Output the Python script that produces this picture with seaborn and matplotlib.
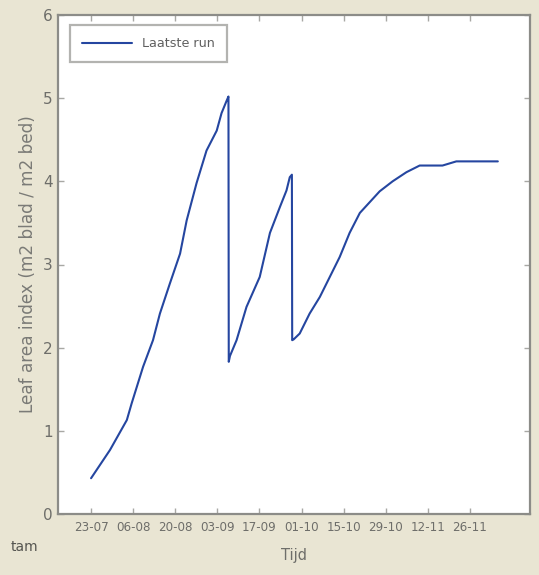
import matplotlib
matplotlib.use("Agg")
import matplotlib.pyplot as plt
import seaborn as sns

# ==============================
# DATA
# ==============================
# days since 23-07
days = [0, 6.3, 11.9, 13.5, 17.3, 20.6, 22.9, 26.2, 29.6, 31.8, 35.1, 38.4,
        41.8, 43.4, 45.1, 45.7, 45.8,
        46.2, 48.4, 51.7, 56.1, 59.5, 62.8, 65.0, 66.1, 66.8, 66.9,
        67.4, 69.4, 72.7, 76.1, 79.4, 82.7, 86.0, 89.4, 92.7, 96.0,
        100.3, 104.9, 109.3, 116.9, 121.5, 135.3]
lai = [0.43, 0.77, 1.13, 1.33, 1.77, 2.09, 2.41, 2.77, 3.13, 3.53, 3.98, 4.37,
       4.61, 4.82, 4.97, 5.02, 1.83,
       1.90, 2.09, 2.49, 2.85, 3.38, 3.69, 3.89, 4.05, 4.08, 2.09,
       2.10, 2.17, 2.41, 2.61, 2.85, 3.09, 3.38, 3.62, 3.75, 3.88,
       4.00, 4.11, 4.19, 4.19, 4.24, 4.24]

tick_labels = ["23-07", "06-08", "20-08", "03-09", "17-09",
               "01-10", "15-10", "29-10", "12-11", "26-11"]
tick_days = [14 * i for i in range(len(tick_labels))]
series_name = "Laatste run"

# ==============================
# STYLE
# ==============================
sns.set_style("white")
plt.rcParams['font.family'] = ['DejaVu Sans']

bg = "#e9e5d3"
frame = "#8c8c88"
txt = "#6e6e6a"

fig = plt.figure(figsize=(5.39, 5.75), dpi=100, facecolor=bg)
ax = fig.add_axes([0.1076, 0.1061, 0.8757, 0.8678])
ax.set_facecolor("white")

# ==============================
# PLOT
# ==============================
sns.lineplot(x=days, y=lai, estimator=None, sort=False, ax=ax,
             color="#2546a0", linewidth=1.5, label=series_name)

ax.set_xlim(-11, 146)
ax.set_ylim(0, 6)
ax.set_xticks(tick_days)
ax.set_xticklabels(tick_labels, fontsize=8.6)
ax.set_yticks(range(0, 7))

for s in ax.spines.values():
    s.set_color(frame)
    s.set_linewidth(1.6)

ax.tick_params(direction="in", length=4, width=1, color="#a8a8a4",
               top=True, right=True, bottom=True, left=True,
               labelcolor=txt, pad=5)
ax.tick_params(axis="y", labelsize=11, pad=4)

ax.set_xlabel("Tijd", color=txt, fontsize=10.5, labelpad=10)
ax.set_ylabel("Leaf area index (m2 blad / m2 bed)", color="#7a7a76",
              fontsize=12.2, labelpad=4)

leg = ax.legend(loc="upper left", fancybox=False, frameon=True,
                fontsize=9.2, handlelength=3.9, borderpad=0.95,
                borderaxespad=0, bbox_to_anchor=(0.025, 0.98))
leg.get_frame().set_edgecolor("#a0a09c")
leg.get_frame().set_linewidth(1.6)
for t in leg.get_texts():
    t.set_color("#606060")

fig.text(0.02, 0.042, "tam", color="#555550", fontsize=10)

plt.savefig("out.png", dpi=100, facecolor=bg)
